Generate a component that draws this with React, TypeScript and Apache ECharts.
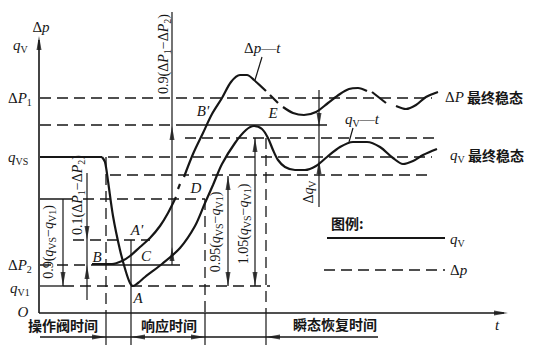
import React, { useEffect, useRef } from 'react';
import * as echarts from 'echarts';

// ---- curves (time, level) ----
const qvFlat = [[40, 157], [102, 157]];
const qvCurve = [[102, 157], [105, 162], [108, 181], [113, 216], [120, 250], [126, 272], [130, 283], [133, 286], [138, 283], [145, 277], [162, 264], [180, 248], [195, 226], [205, 203], [213, 185], [222, 164], [235, 143], [246, 130], [254, 126], [262, 129], [268, 138], [273, 150], [278, 160], [285, 167], [295, 170], [305, 170], [316, 166], [327, 157], [340, 147], [353, 142], [367, 142], [380, 147], [393, 158], [403, 164], [413, 161], [423, 155], [437, 149]];
const dpPieces = [
  [[92, 264], [112, 264], [122, 261], [130, 256], [140, 247], [150, 238], [160, 226], [168, 213], [176, 197]],
  [[178, 189], [180, 184]],
  [[184, 177], [193, 154], [203, 133], [212, 114], [222, 98], [231, 82], [240, 75], [247, 75], [254, 80], [266, 91]],
  [[270, 95], [278, 103]],
  [[283, 107], [293, 113], [304, 115], [316, 112], [328, 103], [340, 94], [349, 89], [358, 88], [367, 91]],
  [[372, 92], [386, 103]],
  [[396, 106], [406, 109], [416, 105], [426, 97], [438, 92]],
];

// ---- reference levels: [x1, x2, y] ----
const dashedH = [[40, 432, 98], [40, 185, 125], [185, 435, 138], [108, 432, 157], [110, 432, 175], [83, 205, 199], [73, 150, 240], [40, 92, 265], [63, 270, 286]];
const solidH = [[185, 327, 125], [40, 73, 199], [92, 180, 265], [40, 63, 286]];
// ---- verticals: [x, y1, y2] ----
const dashedV = [[106, 157, 313], [205, 199, 313], [266, 138, 313]];
const solidV = [[63, 199, 286], [87, 173, 300], [106, 313, 345], [131, 240, 345], [172, 12, 265], [205, 313, 345], [228, 176, 286], [255, 138, 286], [266, 313, 345], [319, 90, 207]];
const axisLines = [[[39, 313], [39, 40]], [[39, 313], [504, 313]]];
const timeLine = [[40, 337], [378, 337]];
const leaders = [[[262, 57], [255, 80]], [[353, 128], [349, 142]]];
const legendSolid = [[327, 238], [445, 238]];
const legendDashed = [[324, 270], [445, 270]];
// arrow tips: [x, y, direction]
const arrowTips: [number, number, string][] = [[39, 36, 'up'], [508, 313, 'right'], [63, 286, 'down'], [87, 240, 'down'], [87, 265, 'up'], [172, 126, 'up'], [172, 247, 'up'], [228, 176, 'up'], [228, 286, 'down'], [255, 138, 'up'], [255, 286, 'down'], [319, 127, 'down'], [319, 160, 'up'], [106, 337, 'right'], [131, 337, 'left'], [205, 337, 'right'], [266, 337, 'left']];

// ---- texts: [x, y, rich text, align, rotated] ----
const labels: [number, number, string, string, boolean][] = [
  [41, 27, '{r|Δ}{i|p}', 'center', false],
  [13, 45, '{i|q}{s|V}', 'left', false],
  [8, 98, '{r|Δ}{i|P}{s|1}', 'left', false],
  [8, 157, '{i|q}{s|VS}', 'left', false],
  [8, 265, '{r|Δ}{i|P}{s|2}', 'left', false],
  [10, 288, '{i|q}{s|V1}', 'left', false],
  [23, 312, '{i|O}', 'center', false],
  [497, 325, '{i|t}', 'center', false],
  [445, 97, '{r|Δ}{i|P}{c| 最终稳态}', 'left', false],
  [450, 155, '{i|q}{s|V}{c| 最终稳态}', 'left', false],
  [244, 48, '{r|Δ}{i|p}{r|—}{i|t}', 'left', false],
  [345, 119, '{i|q}{s|V}{r|—}{i|t}', 'left', false],
  [203, 111, "{i|B'}", 'center', false],
  [273, 113, '{i|E}', 'center', false],
  [196, 188, '{i|D}', 'center', false],
  [137, 230, "{i|A'}", 'center', false],
  [97, 257, '{i|B}', 'center', false],
  [146, 256, '{i|C}', 'center', false],
  [138, 298, '{i|A}', 'center', false],
  [331, 223, '{c|图例:}', 'left', false],
  [450, 239, '{i|q}{s|V}', 'left', false],
  [450, 270, '{r|Δ}{i|p}', 'left', false],
  [63, 325, '{c|操作阀时间}', 'center', false],
  [169, 325, '{c|响应时间}', 'center', false],
  [335, 324, '{c|瞬态恢复时间}', 'center', false],
  [48, 242, '{r|0.9(}{i|q}{s|VS}{r|−}{i|q}{s|V1}{r|)}', 'center', true],
  [77, 195, '{r|0.1(Δ}{i|P}{s|1}{r|−Δ}{i|P}{s|2}{r|)}', 'center', true],
  [163, 54, '{r|0.9(Δ}{i|P}{s|1}{r|−Δ}{i|P}{s|2}{r|)}', 'center', true],
  [215, 232, '{r|0.95(}{i|q}{s|VS}{r|−}{i|q}{s|V1}{r|)}', 'center', true],
  [243, 224, '{r|1.05(}{i|q}{s|VS}{r|−}{i|q}{s|V1}{r|)}', 'center', true],
  [308, 192, '{r|Δ}{i|q}{s|V}', 'center', true],
];

const INK = '#161616';
const SERIF = 'Liberation Serif';
const CJK = 'Noto Sans CJK SC';

export default function App() {
  const ref = useRef<HTMLDivElement>(null);
  useEffect(() => {
    const chart = echarts.init(ref.current!, null, { renderer: 'svg' });
    const series: any[] = [];
    const seg = (pts: number[][], width: number, dashed: boolean, smooth: number | boolean = false) => {
      series.push({
        type: 'line', data: pts, symbol: 'none', showSymbol: false, smooth, silent: true,
        lineStyle: { color: INK, width, type: dashed ? [11, 6] : 'solid' }, z: 2,
      });
    };
    seg(qvFlat, 2.2, false);
    seg(qvCurve, 2.2, false, 0.3);
    dpPieces.forEach((p) => seg(p, 2.2, false, p.length > 2 ? 0.3 : false));
    dashedH.forEach(([a, b, y]) => seg([[a, y], [b, y]], 1.3, true));
    solidH.forEach(([a, b, y]) => seg([[a, y], [b, y]], 1.3, false));
    dashedV.forEach(([x, a, b]) => seg([[x, a], [x, b]], 1.3, true));
    solidV.forEach(([x, a, b]) => seg([[x, a], [x, b]], 1.2, false));
    axisLines.forEach((p) => seg(p, 1.6, false));
    seg(timeLine, 1.3, false);
    leaders.forEach((p) => seg(p, 1.2, false));
    seg(legendSolid, 2.2, false);
    seg(legendDashed, 1.6, true);

    const dirs: Record<string, [number, number, number]> = { up: [0, 1, 0], down: [0, -1, 180], left: [1, 0, 90], right: [-1, 0, -90] };
    series.push({
      type: 'scatter', symbol: 'triangle', symbolSize: [5, 14], silent: true, z: 3,
      itemStyle: { color: INK },
      data: arrowTips.map(([x, y, d]) => {
        const [dx, dy, rot] = dirs[d];
        return { value: [x + dx * 7, y + dy * 7], symbolRotate: rot };
      }),
    });

    const rich = (rot: boolean) => {
      const size = rot ? 14 : 15;
      return {
        r: { fontFamily: SERIF, fontSize: size, lineHeight: 18, fill: INK, color: INK },
        i: { fontFamily: SERIF, fontSize: size, fontStyle: 'italic', lineHeight: 18, fill: INK, color: INK },
        s: { fontFamily: SERIF, fontSize: 10, lineHeight: 10, verticalAlign: 'bottom', fill: INK, color: INK },
        c: { fontFamily: CJK, fontSize: 14, fontWeight: 'bold', lineHeight: 18, fill: INK, color: INK },
      };
    };
    const graphic = labels.map(([x, y, text, align, rot]) => ({
      type: 'text', x, y, rotation: rot ? Math.PI / 2 : 0, z: 10, silent: true,
      style: { text, rich: rich(rot), align, textAlign: align, verticalAlign: 'middle', textVerticalAlign: 'middle', fill: INK, fontFamily: SERIF, fontSize: 15 },
    }));

    chart.setOption({
      animation: false,
      backgroundColor: '#ffffff',
      grid: { left: 0, right: 0, top: 0, bottom: 0 },
      xAxis: { type: 'value', min: 0, max: 536, show: false },
      yAxis: { type: 'value', min: 0, max: 353, inverse: true, show: false },
      series,
      graphic,
    });
    return () => chart.dispose();
  }, []);
  return <div ref={ref} style={{ position: 'absolute', left: 0, top: 0, width: 536, height: 353, background: '#fff' }} />;
}
